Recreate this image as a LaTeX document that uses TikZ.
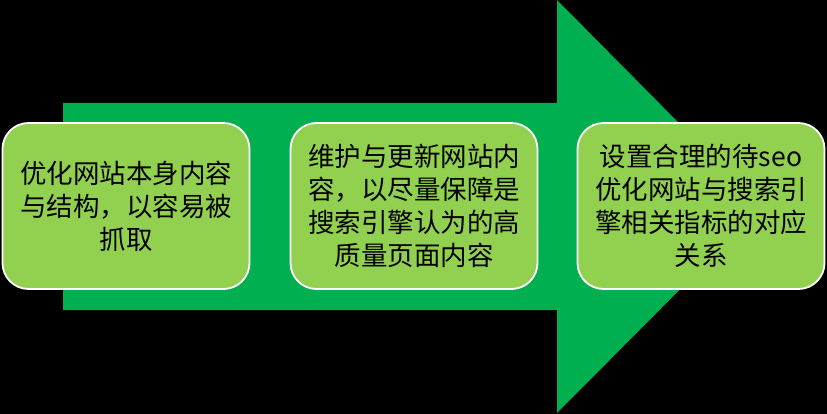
\documentclass[tikz,border=0pt]{standalone}
\usepackage{fontspec}
\setmainfont{Noto Sans CJK SC}
\definecolor{darkgr}{HTML}{00B050}
\definecolor{lightgr}{HTML}{92D050}
\begin{document}
\begin{tikzpicture}[x=1pt,y=-1pt,
  stagebox/.style={draw=white,line width=1.8pt,fill=lightgr,rounded corners=26pt,
    minimum width=247pt,minimum height=166pt,align=center,text=black,
    font=\fontsize{26.5}{33}\selectfont,inner sep=0pt},
  bigarrow/.style={fill=darkgr,draw=none}]
\useasboundingbox[fill=black] (0,0) rectangle (827,414);
\fill[bigarrow] (63,103) -- (557,103) -- (557,0) -- (762,207) -- (557,413) -- (557,310) -- (63,310) -- cycle;
\node[stagebox] (s1) at (126,206) {优化网站本身内容\\与结构，以容易被\\抓取};
\node[stagebox] (s2) at (414,206) {维护与更新网站内\\容，以尽量保障是\\搜索引擎认为的高\\质量页面内容};
\node[stagebox] (s3) at (701,206) {设置合理的待seo\\优化网站与搜索引\\擎相关指标的对应\\关系};
\end{tikzpicture}
\end{document}
